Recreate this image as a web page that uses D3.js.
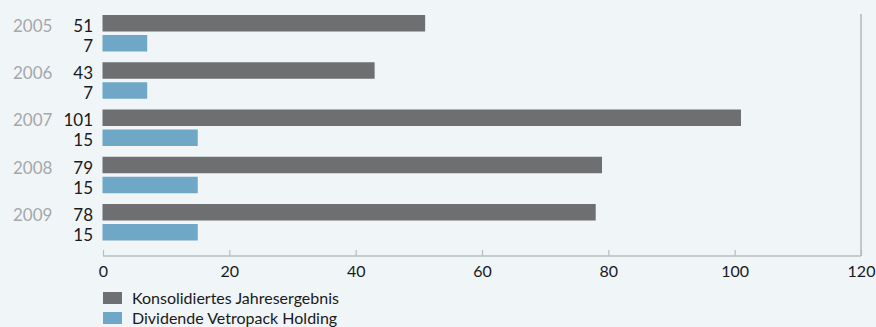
<!DOCTYPE html>
<html>
<head>
<meta charset="utf-8">
<script src="https://cdn.jsdelivr.net/npm/d3@7"></script>
<style>
  html, body { margin: 0; padding: 0; background: #f0f5f8; }
  svg { display: block; font-family: Lato, "Open Sans", sans-serif; }
</style>
</head>
<body>
<svg id="chart" width="876" height="327"></svg>
<script>
// Mio. CHF per year
const years = ["2005", "2006", "2007", "2008", "2009"];
const konsolidiert = [51, 43, 101, 79, 78];
const dividende = [7, 7, 15, 15, 15];
const seriesNames = ["Konsolidiertes Jahresergebnis", "Dividende Vetropack Holding"];
const seriesColors = ["#6e6f71", "#6fa8c7"];
const xTicks = [0, 20, 40, 60, 80, 100, 120];

const svg = d3.select("#chart");

const x = d3.scaleLinear().domain([0, 120]).range([103, 861]);
const y = d3.scaleBand().domain(years).range([15, 240.5]).paddingInner(0.2275).paddingOuter(0);
const ySub = d3.scaleBand().domain([0, 1]).range([0, y.bandwidth()]).paddingInner(0.175).paddingOuter(0);

const rows = years.map((yr, i) => ({ year: yr, values: [konsolidiert[i], dividende[i]] }));

// right frame line
svg.append("line")
  .attr("x1", x(120)).attr("x2", x(120))
  .attr("y1", 14).attr("y2", 256)
  .attr("stroke", "#c3c7cb").attr("stroke-width", 2);

// bottom axis
const axisG = svg.append("g").attr("transform", "translate(0,256)")
  .call(d3.axisBottom(x).tickValues(xTicks).tickSize(-6).tickPadding(14).tickFormat(d3.format("d")));
axisG.select(".domain").attr("stroke", "#b9bdc1").attr("stroke-width", 1.5).attr("d", `M${x(0)},0H${x(120)}`);
axisG.selectAll(".tick line").attr("stroke", "#b9bdc1").attr("stroke-width", 1.2);
axisG.selectAll(".tick text").attr("fill", "#1a1a1a").attr("font-size", 16).attr("font-family", "Lato, sans-serif").attr("dy", "0.45em");

const groups = svg.selectAll("g.year").data(rows).join("g")
  .attr("class", "year")
  .attr("transform", d => `translate(0,${y(d.year)})`);

groups.selectAll("rect").data(d => d.values).join("rect")
  .attr("x", x(0) - 0.5)
  .attr("y", (v, i) => ySub(i))
  .attr("width", v => x(v) - x(0) + 0.5)
  .attr("height", ySub.bandwidth())
  .attr("fill", (v, i) => seriesColors[i]);

groups.selectAll("text.val").data(d => d.values).join("text")
  .attr("class", "val")
  .attr("x", 93)
  .attr("y", (v, i) => ySub(i) + ySub.bandwidth() + 0.5)
  .attr("text-anchor", "end")
  .attr("font-size", 17)
  .attr("fill", "#1a1a1a")
  .text(v => v);

groups.append("text")
  .attr("x", 13)
  .attr("y", ySub(0) + ySub.bandwidth() + 0.5)
  .attr("font-size", 17)
  .attr("fill", "#a6a8aa")
  .text(d => d.year);

// legend
const legend = svg.selectAll("g.legend").data(seriesNames).join("g")
  .attr("class", "legend")
  .attr("transform", (d, i) => `translate(103,${292 + i * 20})`);
legend.append("rect").attr("width", 19).attr("height", 12).attr("fill", (d, i) => seriesColors[i]);
legend.append("text").attr("x", 29).attr("y", 12).attr("font-size", 16).attr("fill", "#1a1a1a").text(d => d);
</script>
</body>
</html>
